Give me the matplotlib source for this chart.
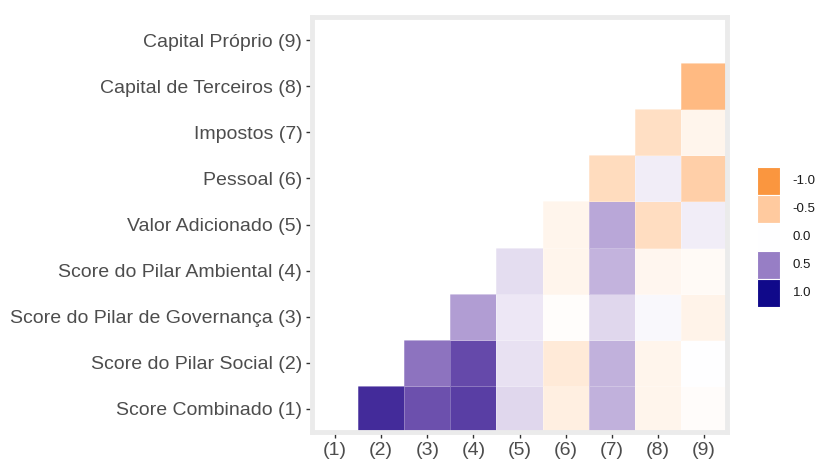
import numpy as np
import matplotlib
matplotlib.use("Agg")
import matplotlib.pyplot as plt
from matplotlib.colors import ListedColormap, Normalize, to_rgb
from matplotlib.patches import Rectangle

# ---- data ----
row_labels = ["Score Combinado (1)", "Score do Pilar Social (2)",
              "Score do Pilar de Governança (3)", "Score do Pilar Ambiental (4)",
              "Valor Adicionado (5)", "Pessoal (6)", "Impostos (7)",
              "Capital de Terceiros (8)", "Capital Próprio (9)"]
col_labels = ["(1)", "(2)", "(3)", "(4)", "(5)", "(6)", "(7)", "(8)", "(9)"]

# correlations of row i with columns i+1..9
row1 = [0.86, 0.70, 0.78, 0.15, -0.15, 0.30, -0.10, -0.03]
row2 = [0.55, 0.73, 0.11, -0.20, 0.30, -0.10, 0.00]
row3 = [0.38, 0.09, -0.02, 0.15, 0.03, -0.11]
row4 = [0.13, -0.10, 0.29, -0.08, -0.04]
row5 = [-0.10, 0.34, -0.32, 0.07]
row6 = [-0.33, 0.07, -0.45]
row7 = [-0.30, -0.10]
row8 = [-0.65]
row9 = []
rows = [row1, row2, row3, row4, row5, row6, row7, row8, row9]

legend_breaks = [-1.0, -0.5, 0.0, 0.5, 1.0]
legend_labels = ["-1.0", "-0.5", "0.0", "0.5", "1.0"]

# ---- Lab interpolated colour ramp ----
def srgb_to_lab(rgb):
    rgb = np.asarray(rgb, float)
    lin = np.where(rgb <= 0.04045, rgb / 12.92, ((rgb + 0.055) / 1.055) ** 2.4)
    M = np.array([[0.4124, 0.3576, 0.1805], [0.2126, 0.7152, 0.0722], [0.0193, 0.1192, 0.9505]])
    xyz = M @ lin
    wp = np.array([0.95047, 1.0, 1.08883])
    t = xyz / wp
    f = np.where(t > (6/29) ** 3, np.cbrt(t), t / (3 * (6/29) ** 2) + 4/29)
    return np.array([116 * f[1] - 16, 500 * (f[0] - f[1]), 200 * (f[1] - f[2])])

def lab_to_srgb(lab):
    L, a, b = lab
    fy = (L + 16) / 116
    fx = fy + a / 500
    fz = fy - b / 200
    f = np.array([fx, fy, fz])
    t = np.where(f > 6/29, f ** 3, 3 * (6/29) ** 2 * (f - 4/29))
    xyz = t * np.array([0.95047, 1.0, 1.08883])
    Minv = np.array([[3.2406, -1.5372, -0.4986], [-0.9689, 1.8758, 0.0415], [0.0557, -0.2040, 1.0570]])
    lin = Minv @ xyz
    lin = np.clip(lin, 0, 1)
    rgb = np.where(lin <= 0.0031308, 12.92 * lin, 1.055 * lin ** (1/2.4) - 0.055)
    return np.clip(rgb, 0, 1)

low = srgb_to_lab(to_rgb("#fa963f"))
mid = srgb_to_lab(to_rgb("#ffffff"))
high = srgb_to_lab(to_rgb("#10098a"))
N = 256
cols = []
for v in np.linspace(-1, 1, N):
    if v < 0:
        lab = mid + (low - mid) * (-v)
    else:
        lab = mid + (high - mid) * v
    cols.append(lab_to_srgb(lab))
cmap = ListedColormap(cols)
norm = Normalize(-1, 1)

# ---- matrix ----
n = len(row_labels)
M = np.full((n, n), np.nan)
for i, r in enumerate(rows):
    for k, v in enumerate(r):
        M[i, i + 1 + k] = v

fig = plt.figure(figsize=(8.19, 4.63), dpi=100)
plt.rcParams['font.family'] = ['Liberation Sans', 'DejaVu Sans']
ax = fig.add_axes([312/819, 1 - 432/463, 415/819, 415/463])
ax.pcolormesh(np.arange(n + 1) + 0.5, np.arange(n + 1) + 0.5, np.ma.masked_invalid(M),
              cmap=cmap, norm=norm, edgecolors=(1, 1, 1, 0.25), linewidth=0.6)
ax.set_xlim(0.5, n + 0.5)
ax.set_ylim(0.5, n + 0.5)
ax.set_xticks(np.arange(1, n + 1))
ax.set_xticklabels(col_labels)
ax.set_yticks(np.arange(1, n + 1))
ax.set_yticklabels(row_labels)
ax.tick_params(axis='both', direction='out', length=4, width=1.0, color='#333333',
               labelcolor='#4d4d4d', labelsize=14, pad=3)
for s in ax.spines.values():
    s.set_color('#ebebeb')
    s.set_linewidth(3.5)

# ---- legend ----
lax = fig.add_axes([757/819, 1 - 307/463, 23/819, 140/463])
lax.set_xlim(0, 1)
lax.set_ylim(0, len(legend_breaks))
for j, (b, lab) in enumerate(zip(legend_breaks, legend_labels)):
    y = len(legend_breaks) - 1 - j
    lax.add_patch(Rectangle((0, y), 1, 1, facecolor=cmap(norm(b)), edgecolor='white', linewidth=0.8))
    lax.text(1.55, y + 0.5, lab, va='center', ha='left', fontsize=9.5, color='#1a1a1a')
lax.axis('off')

fig.savefig("out.png", dpi=100)
